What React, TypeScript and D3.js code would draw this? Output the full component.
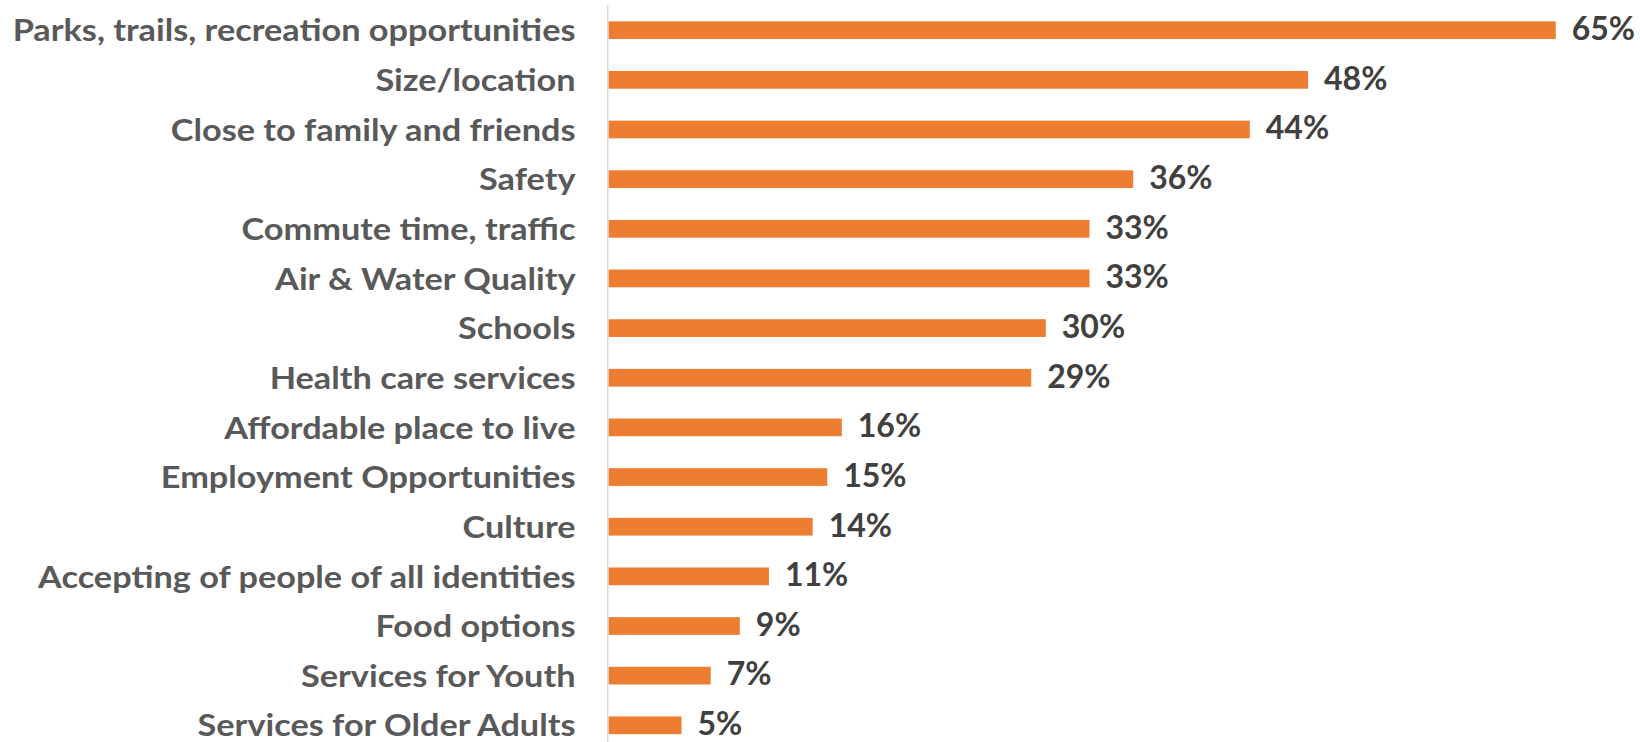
import React, { useLayoutEffect, useState } from "react";
import * as d3 from "d3";

const categories: string[] = [
  "Parks, trails, recreation opportunities",
  "Size/location",
  "Close to family and friends",
  "Safety",
  "Commute time, traffic",
  "Air & Water Quality",
  "Schools",
  "Health care services",
  "Affordable place to live",
  "Employment Opportunities",
  "Culture",
  "Accepting of people of all identities",
  "Food options",
  "Services for Youth",
  "Services for Older Adults",
];

const values: number[] = [0.65, 0.48, 0.44, 0.36, 0.33, 0.33, 0.30, 0.29, 0.16, 0.15, 0.14, 0.11, 0.09, 0.07, 0.05];

const xDomain: [number, number] = [0, 0.7];

const W = 1640;
const H = 742;
const FONT = "Lato, 'Open Sans', sans-serif";
const FS = 31;
const VFS = 32;
const LABEL_RIGHT = 575.5;
const TARGET_LONGEST = 563;

export default function App() {
  const [k, setK] = useState(0.9);

  useLayoutEffect(() => {
    document.body.style.margin = "0";
    const longest = categories.reduce((a, b) => (b.length > a.length ? b : a), "");
    const ctx = document.createElement("canvas").getContext("2d");
    if (ctx) {
      ctx.font = `700 ${FS}px ${FONT}`;
      const w = ctx.measureText(longest).width;
      if (w > 0) setK(TARGET_LONGEST / w);
    }
  }, []);

  const x = d3.scaleLinear().domain(xDomain).range([608.7, 1628.6]);
  const step = 49.65;
  const y = d3
    .scaleBand<string>()
    .domain(categories)
    .range([30.2 - step / 2, 30.2 + step * 14.5])
    .paddingInner(0.643)
    .paddingOuter(0.3215);

  const fmt = d3.format(".0%");

  return (
    <svg width={W} height={H} style={{ position: "absolute", left: 0, top: 0, background: "#fff" }}>
      <line x1={607.7} x2={607.7} y1={5} y2={H} stroke="#D9D9D9" strokeWidth={1.6} />
      {categories.map((c, i) => {
        const top = y(c)!;
        const cy = top + y.bandwidth() / 2;
        const base = cy + FS * 0.36;
        return (
          <g key={c}>
            <rect
              x={x(0)}
              y={top}
              width={x(values[i]) - x(0)}
              height={y.bandwidth()}
              fill="#ED7D31"
            />
            <text
              transform={`translate(${LABEL_RIGHT},${base}) scale(${k},1)`}
              textAnchor="end"
              fontFamily={FONT}
              fontWeight={700}
              fontSize={FS}
              fill="#595959"
            >
              {c}
            </text>
            <text
              x={x(values[i]) + 16}
              y={cy + 9.8}
              textAnchor="start"
              fontFamily={FONT}
              fontWeight={700}
              fontSize={VFS}
              fill="#404040"
            >
              {fmt(values[i])}
            </text>
          </g>
        );
      })}
    </svg>
  );
}
